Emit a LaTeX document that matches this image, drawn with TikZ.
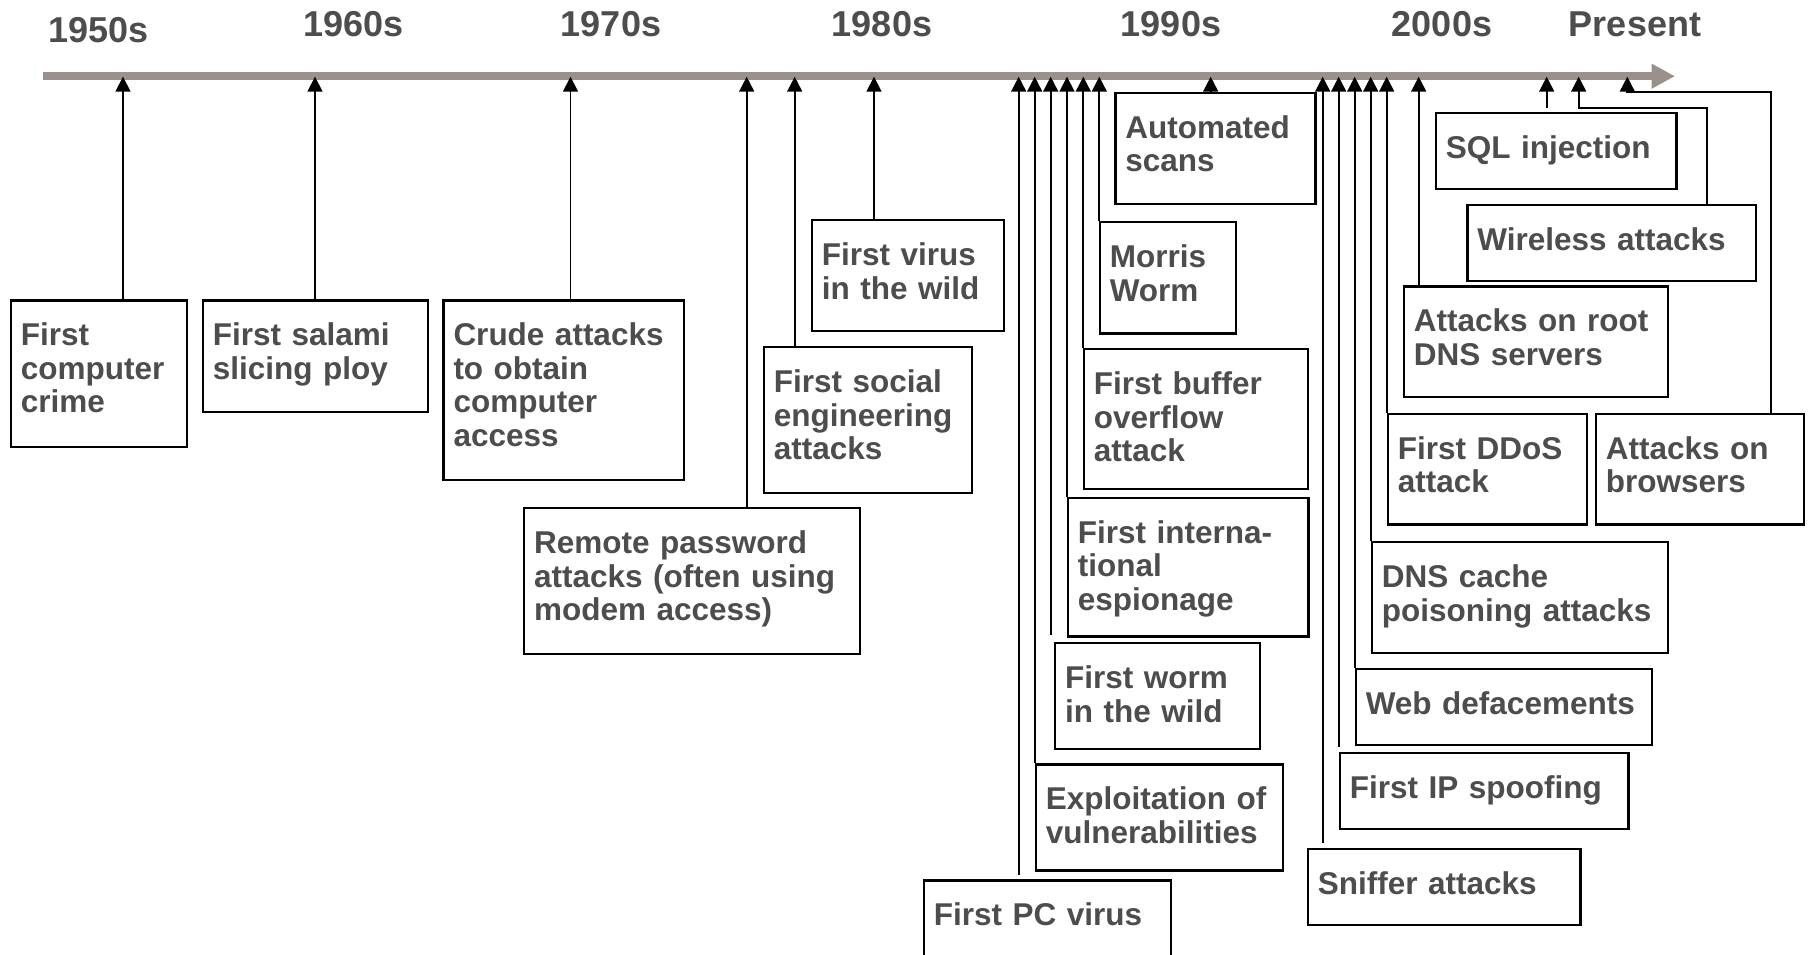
\documentclass[tikz,border=0pt]{standalone}
\usepackage{fontspec}
\setmainfont{Liberation Sans}
\usetikzlibrary{arrows.meta,calc}
\definecolor{axisgray}{HTML}{9B918C}
\definecolor{txtgray}{HTML}{4D4D4D}
\tikzset{
  box/.style={draw=black, line width=2.2pt, inner xsep=10pt, inner ysep=0pt,
    text height=45.5pt, align=left, anchor=north west, text=txtgray,
    font=\bfseries\fontsize{31.5}{33.5}\selectfont},
  stem/.style={draw=black, line width=1.7pt, line join=miter,
    -{Triangle[width=15pt,length=15pt]}},
  yearlbl/.style={text=txtgray, font=\bfseries\fontsize{36}{40}\selectfont,
    anchor=base, inner sep=0pt},
  axisline/.style={draw=axisgray, line width=7.7pt,
    -{Triangle[width=23.3pt,length=23.3pt]}},
}
\newcommand\tlbox[6]{%
  \pgfmathsetmacro\tlW{#4-#2-20}%
  \pgfmathsetmacro\tlD{#5-#3-45.5}%
  \node[box, text width=\tlW pt, text depth=\tlD pt] (#1) at (#2,#3) {#6};%
}
\begin{document}
\begin{tikzpicture}[x=1pt,y=-1pt]
\useasboundingbox[fill=white] (0,0) rectangle (1808,954);

% year labels
\node[yearlbl] (y1950) at (98.3,42.7) {1950s};
\node[yearlbl] (y1960) at (353.3,36.8) {1960s};
\node[yearlbl] (y1970) at (611,36.8) {1970s};
\node[yearlbl] (y1980) at (882,36.8) {1980s};
\node[yearlbl] (y1990) at (1171,36.8) {1990s};
\node[yearlbl] (y2000) at (1442,36.8) {2000s};
\node[yearlbl] (ypresent) at (1635,36.8) {Present};

% axis
\coordinate (axL) at (43.3,76.2);
\coordinate (axR) at (1675,76.2);
\draw[axisline] (axL) -- (axR);

% boxes
\tlbox{crime}{9.8}{299.3}{186.2}{446}{First\\computer\\crime}
\tlbox{salami}{201.8}{299.3}{427.2}{410.7}{First salami\\slicing ploy}
\tlbox{crude}{442.4}{299.3}{683}{479}{Crude attacks\\to obtain\\computer\\access}
\tlbox{remote}{523}{507}{859}{652.7}{Remote password\\attacks (often using\\modem access)}
\tlbox{social}{762.7}{346}{971}{491.7}{First social\\engineering\\attacks}
\tlbox{virus}{810.7}{219}{1002.7}{330}{First virus\\in the wild}
\tlbox{pcvirus}{922.7}{879.3}{1170}{962}{First PC virus}
\tlbox{exploit}{1034.7}{763.3}{1282}{869.3}{Exploitation of\\vulnerabilities}
\tlbox{worm}{1054}{642}{1259}{747.7}{First worm\\in the wild}
\tlbox{espion}{1066.7}{496.7}{1307.3}{635.3}{First interna-\\tional\\espionage}
\tlbox{buffer}{1082.7}{348}{1306.7}{487.5}{First buffer\\overflow\\attack}
\tlbox{morris}{1098.7}{221}{1235}{332.3}{Morris\\Worm}
\tlbox{scans}{1114.3}{91.7}{1314.3}{202.7}{Automated\\scans}
\tlbox{sniffer}{1306.7}{847.7}{1579.3}{924}{Sniffer attacks}
\tlbox{spoof}{1338.7}{751.7}{1627.3}{827.7}{First IP spoofing}
\tlbox{deface}{1354.7}{667.7}{1650.7}{743.7}{Web defacements}
\tlbox{cache}{1370.7}{541}{1666.7}{652}{DNS cache\\poisoning attacks}
\tlbox{ddos}{1386.7}{412.7}{1586}{523.3}{First DDoS\\attack}
\tlbox{rootdns}{1402.7}{285.3}{1667}{395.7}{Attacks on root\\DNS servers}
\tlbox{sql}{1434.7}{112}{1675.3}{187.7}{SQL injection}
\tlbox{wireless}{1466.3}{204}{1755}{280}{Wireless attacks}
\tlbox{browsers}{1594.7}{412.7}{1802.7}{523.3}{Attacks on\\browsers}

% arrow tips on the axis
\coordinate (acrime) at (123,76.7);
\coordinate (asalami) at (315,76.7);
\coordinate (acrude) at (570.5,76.7);
\coordinate (aremote) at (746.7,76.7);
\coordinate (asocial) at (794.7,76.7);
\coordinate (avirus) at (874,76.7);
\coordinate (apcvirus) at (1018.7,76.7);
\coordinate (aexploit) at (1034.7,76.7);
\coordinate (aworm) at (1050.7,76.7);
\coordinate (aespion) at (1067,76.7);
\coordinate (abuffer) at (1083.3,76.7);
\coordinate (amorris) at (1099.3,76.7);
\coordinate (ascans) at (1210.7,76.7);
\coordinate (asniffer) at (1322.7,76.7);
\coordinate (aspoof) at (1338.7,76.7);
\coordinate (adeface) at (1354.7,76.7);
\coordinate (acache) at (1370.7,76.7);
\coordinate (addos) at (1386.7,76.7);
\coordinate (arootdns) at (1418.7,76.7);
\coordinate (asql) at (1546.7,76.7);
\coordinate (awireless) at (1578.7,76.7);
\coordinate (abrowsers) at (1627.3,76.7);

% connectors
\draw[stem] (crime.north -| acrime) -- (acrime);
\draw[stem] (salami.north -| asalami) -- (asalami);
\draw[stem] (crude.north -| acrude) -- (acrude);
\draw[stem] (remote.north -| aremote) -- (aremote);
\draw[stem] (social.north -| asocial) -- (asocial);
\draw[stem] (virus.north -| avirus) -- (avirus);
\draw[stem] ([yshift=4.3pt]pcvirus.north -| apcvirus) -- (apcvirus);
\draw[stem] (exploit.north -| aexploit) -- (aexploit);
\draw[stem] ([yshift=7pt]worm.north -| aworm) -- (aworm);
\draw[stem] (espion.north -| aespion) -- (aespion);
\draw[stem] (buffer.north -| abuffer) -- (abuffer);
\draw[stem] (morris.north -| amorris) -- (amorris);
\draw[stem] (scans.north -| ascans) -- (ascans);
\draw[stem] ([yshift=4.4pt]sniffer.north -| asniffer) -- (asniffer);
\draw[stem] ([yshift=5pt]spoof.north -| aspoof) -- (aspoof);
\draw[stem] (deface.north -| adeface) -- (adeface);
\draw[stem] (cache.north -| acache) -- (acache);
\draw[stem] (ddos.north -| addos) -- (addos);
\draw[stem] (rootdns.north -| arootdns) -- (arootdns);
\draw[stem] ([yshift=4.3pt]sql.north -| asql) -- (asql);
\draw[stem] ([xshift=240.4pt]wireless.north west) |- ([yshift=-31pt]awireless) -- (awireless);
\draw[stem] ([xshift=176.6pt]browsers.north west) |- ([yshift=-15.6pt]abrowsers) -- (abrowsers);
\end{tikzpicture}
\end{document}
